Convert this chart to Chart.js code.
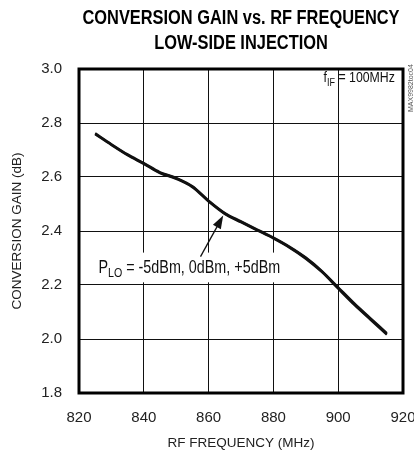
<!DOCTYPE html>
<html>
<head>
<meta charset="utf-8">
<script src="https://cdn.jsdelivr.net/npm/chart.js@4"></script>
<style>
  html, body { margin: 0; padding: 0; background: #fff; }
  canvas { display: block; }
</style>
</head>
<body>
<canvas id="gain-chart" width="414" height="456"></canvas>
<script>
"use strict";

// Data (three LO drive levels, nearly on top of each other)

let freqMHz = [825, 830, 835, 840, 845, 850, 855, 860, 865, 870, 875, 880, 885, 890, 895, 900, 905, 910, 915];
let gainLoM5 = [2.762, 2.722, 2.684, 2.652, 2.618, 2.597, 2.566, 2.513, 2.467, 2.436, 2.406, 2.376, 2.342, 2.302, 2.252, 2.192, 2.132, 2.077, 2.022];
let gainLo0 = [2.760, 2.720, 2.682, 2.650, 2.616, 2.595, 2.564, 2.511, 2.465, 2.434, 2.404, 2.374, 2.340, 2.300, 2.250, 2.189, 2.129, 2.074, 2.019];
let gainLoP5 = [2.758, 2.718, 2.680, 2.648, 2.614, 2.593, 2.562, 2.509, 2.463, 2.432, 2.402, 2.372, 2.338, 2.297, 2.247, 2.186, 2.126, 2.071, 2.016];

let xTicks = [820, 840, 860, 880, 900, 920];
let yTicks = [1.8, 2.0, 2.2, 2.4, 2.6, 2.8, 3.0];

let titleLines = ["CONVERSION GAIN vs. RF FREQUENCY", "LOW-SIDE INJECTION"];
let xTitle = "RF FREQUENCY (MHz)";
let yTitle = "CONVERSION GAIN (dB)";
let sideCode = "MAX9982toc04";

let sans = '"Liberation Sans", Arial, sans-serif';
let squeeze = 0.82; // no condensed face installed, so squash the hand-drawn text

function toPoints(values) {
  let pts = [];
  for (let i = 0; i < freqMHz.length; i++) {
    pts.push({ x: freqMHz[i], y: values[i] });
  }
  return pts;
}

function makeSeries(label, values) {
  return {
    label: label,
    data: toPoints(values),
    borderColor: "#111",
    borderWidth: 2.2,
    pointRadius: 0,
    tension: 0.4,
    cubicInterpolationMode: "monotone",
    fill: false,
  };
}

// Condensed text with a subscript part, drawn left to right from x
function drawSubText(ctx, x, y, main, sub, rest, size) {
  ctx.save();
  ctx.translate(x, y);
  ctx.scale(squeeze, 1);
  let cx = 0;
  ctx.font = size + "px " + sans;
  ctx.fillText(main, cx, 0);
  cx += ctx.measureText(main).width;
  ctx.font = Math.round(size * 0.72) + "px " + sans;
  ctx.fillText(sub, cx, size * 0.25);
  cx += ctx.measureText(sub).width;
  ctx.font = size + "px " + sans;
  ctx.fillText(rest, cx, 0);
  ctx.restore();
}

function drawNarrow(ctx, text, x, y) {
  ctx.save();
  ctx.translate(x, y);
  ctx.scale(squeeze, 1);
  ctx.fillText(text, 0, 0);
  ctx.restore();
}

// Title, labels and frame
let decorations = {
  id: "decorations",
  beforeDatasetsDraw(chart) {
    let ctx = chart.ctx;
    let xs = chart.scales.x;
    let ys = chart.scales.y;
    ctx.save();
    ctx.fillStyle = "#fff";
    // boxes behind the annotations hide the grid
    ctx.fillRect(xs.getPixelForValue(901), ys.getPixelForValue(2.995), xs.getPixelForValue(919.5) - xs.getPixelForValue(901), ys.getPixelForValue(2.915) - ys.getPixelForValue(2.995));
    ctx.fillRect(xs.getPixelForValue(824), ys.getPixelForValue(2.32), xs.getPixelForValue(883) - xs.getPixelForValue(824), ys.getPixelForValue(2.21) - ys.getPixelForValue(2.32));
    ctx.fillStyle = "#111";
    ctx.textBaseline = "alphabetic";
    ctx.textAlign = "left";
    drawSubText(ctx, xs.getPixelForValue(895.5), ys.getPixelForValue(2.952), "f", "IF", " = 100MHz", 15);
    drawSubText(ctx, xs.getPixelForValue(826), ys.getPixelForValue(2.245), "P", "LO", " = -5dBm, 0dBm, +5dBm", 17.5);
    ctx.restore();
  },
  afterDatasetsDraw(chart) {
    let ctx = chart.ctx;
    let area = chart.chartArea;
    let xs = chart.scales.x;
    let ys = chart.scales.y;
    ctx.save();

    // arrow to the curves
    let x0 = xs.getPixelForValue(857.5), y0 = ys.getPixelForValue(2.305);
    let x1 = xs.getPixelForValue(864.5), y1 = ys.getPixelForValue(2.457);
    let ang = Math.atan2(y1 - y0, x1 - x0);
    ctx.strokeStyle = "#111";
    ctx.fillStyle = "#111";
    ctx.lineWidth = 1.3;
    ctx.beginPath();
    ctx.moveTo(x0, y0);
    ctx.lineTo(x1 - 10 * Math.cos(ang), y1 - 10 * Math.sin(ang));
    ctx.stroke();
    ctx.beginPath();
    ctx.moveTo(x1, y1);
    ctx.lineTo(x1 - 13 * Math.cos(ang) + 4.5 * Math.sin(ang), y1 - 13 * Math.sin(ang) - 4.5 * Math.cos(ang));
    ctx.lineTo(x1 - 13 * Math.cos(ang) - 4.5 * Math.sin(ang), y1 - 13 * Math.sin(ang) + 4.5 * Math.cos(ang));
    ctx.closePath();
    ctx.fill();

    // heavy frame
    ctx.lineWidth = 3;
    ctx.strokeStyle = "#000";
    ctx.strokeRect(area.left, area.top, area.right - area.left, area.bottom - area.top);

    // title
    ctx.fillStyle = "#000";
    ctx.textAlign = "center";
    ctx.textBaseline = "alphabetic";
    ctx.font = "bold 20px " + sans;
    drawNarrow(ctx, titleLines[0], 241, 24);
    drawNarrow(ctx, titleLines[1], 241, 49);

    // figure code on the right edge
    ctx.translate(411, 112);
    ctx.rotate(-Math.PI / 2);
    ctx.font = "7px " + sans;
    ctx.fillStyle = "#555";
    ctx.textAlign = "left";
    ctx.textBaseline = "middle";
    ctx.fillText(sideCode, 0, 0);
    ctx.restore();
  },
};

let ctx = document.getElementById("gain-chart").getContext("2d");

let gainChart = new Chart(ctx, {
  type: "line",
  data: {
    datasets: [
      makeSeries("PLO = -5dBm", gainLoM5),
      makeSeries("PLO = 0dBm", gainLo0),
      makeSeries("PLO = +5dBm", gainLoP5),
    ],
  },
  options: {
    responsive: false,
    animation: false,
    devicePixelRatio: 1,
    layout: { padding: { top: 69, right: 11, bottom: 0, left: 0 } },
    plugins: {
      legend: { display: false },
      tooltip: { enabled: false },
    },
    scales: {
      x: {
        type: "linear",
        min: xTicks[0],
        max: xTicks[xTicks.length - 1],
        afterBuildTicks: (scale) => { scale.ticks = xTicks.map((v) => ({ value: v })); },
        afterFit: (scale) => { scale.height = 63; scale.paddingLeft = 0; scale.paddingRight = 0; },
        ticks: {
          maxRotation: 0,
          autoSkip: false,
          padding: 16,
          color: "#222",
          font: { family: sans, size: 15 },
          callback: (v) => String(v),
        },
        grid: { color: "#111", lineWidth: 1, drawTicks: false },
        border: { display: false },
        title: {
          display: true,
          text: xTitle,
          color: "#222",
          font: { family: sans, size: 13.5 },
          padding: { top: 0, bottom: 5 },
        },
      },
      y: {
        min: yTicks[0],
        max: yTicks[yTicks.length - 1],
        afterBuildTicks: (scale) => { scale.ticks = yTicks.map((v) => ({ value: v })); },
        afterFit: (scale) => { scale.width = 79; scale.paddingTop = 0; scale.paddingBottom = 0; },
        ticks: {
          autoSkip: false,
          padding: 17,
          color: "#222",
          font: { family: sans, size: 15 },
          callback: (v) => Number(v).toFixed(1),
        },
        grid: { color: "#111", lineWidth: 1, drawTicks: false },
        border: { display: false },
        title: {
          display: true,
          text: yTitle,
          color: "#222",
          font: { family: sans, size: 13.5 },
          padding: { top: 9, bottom: 0 },
        },
      },
    },
  },
  plugins: [decorations],
});
</script>
</body>
</html>
